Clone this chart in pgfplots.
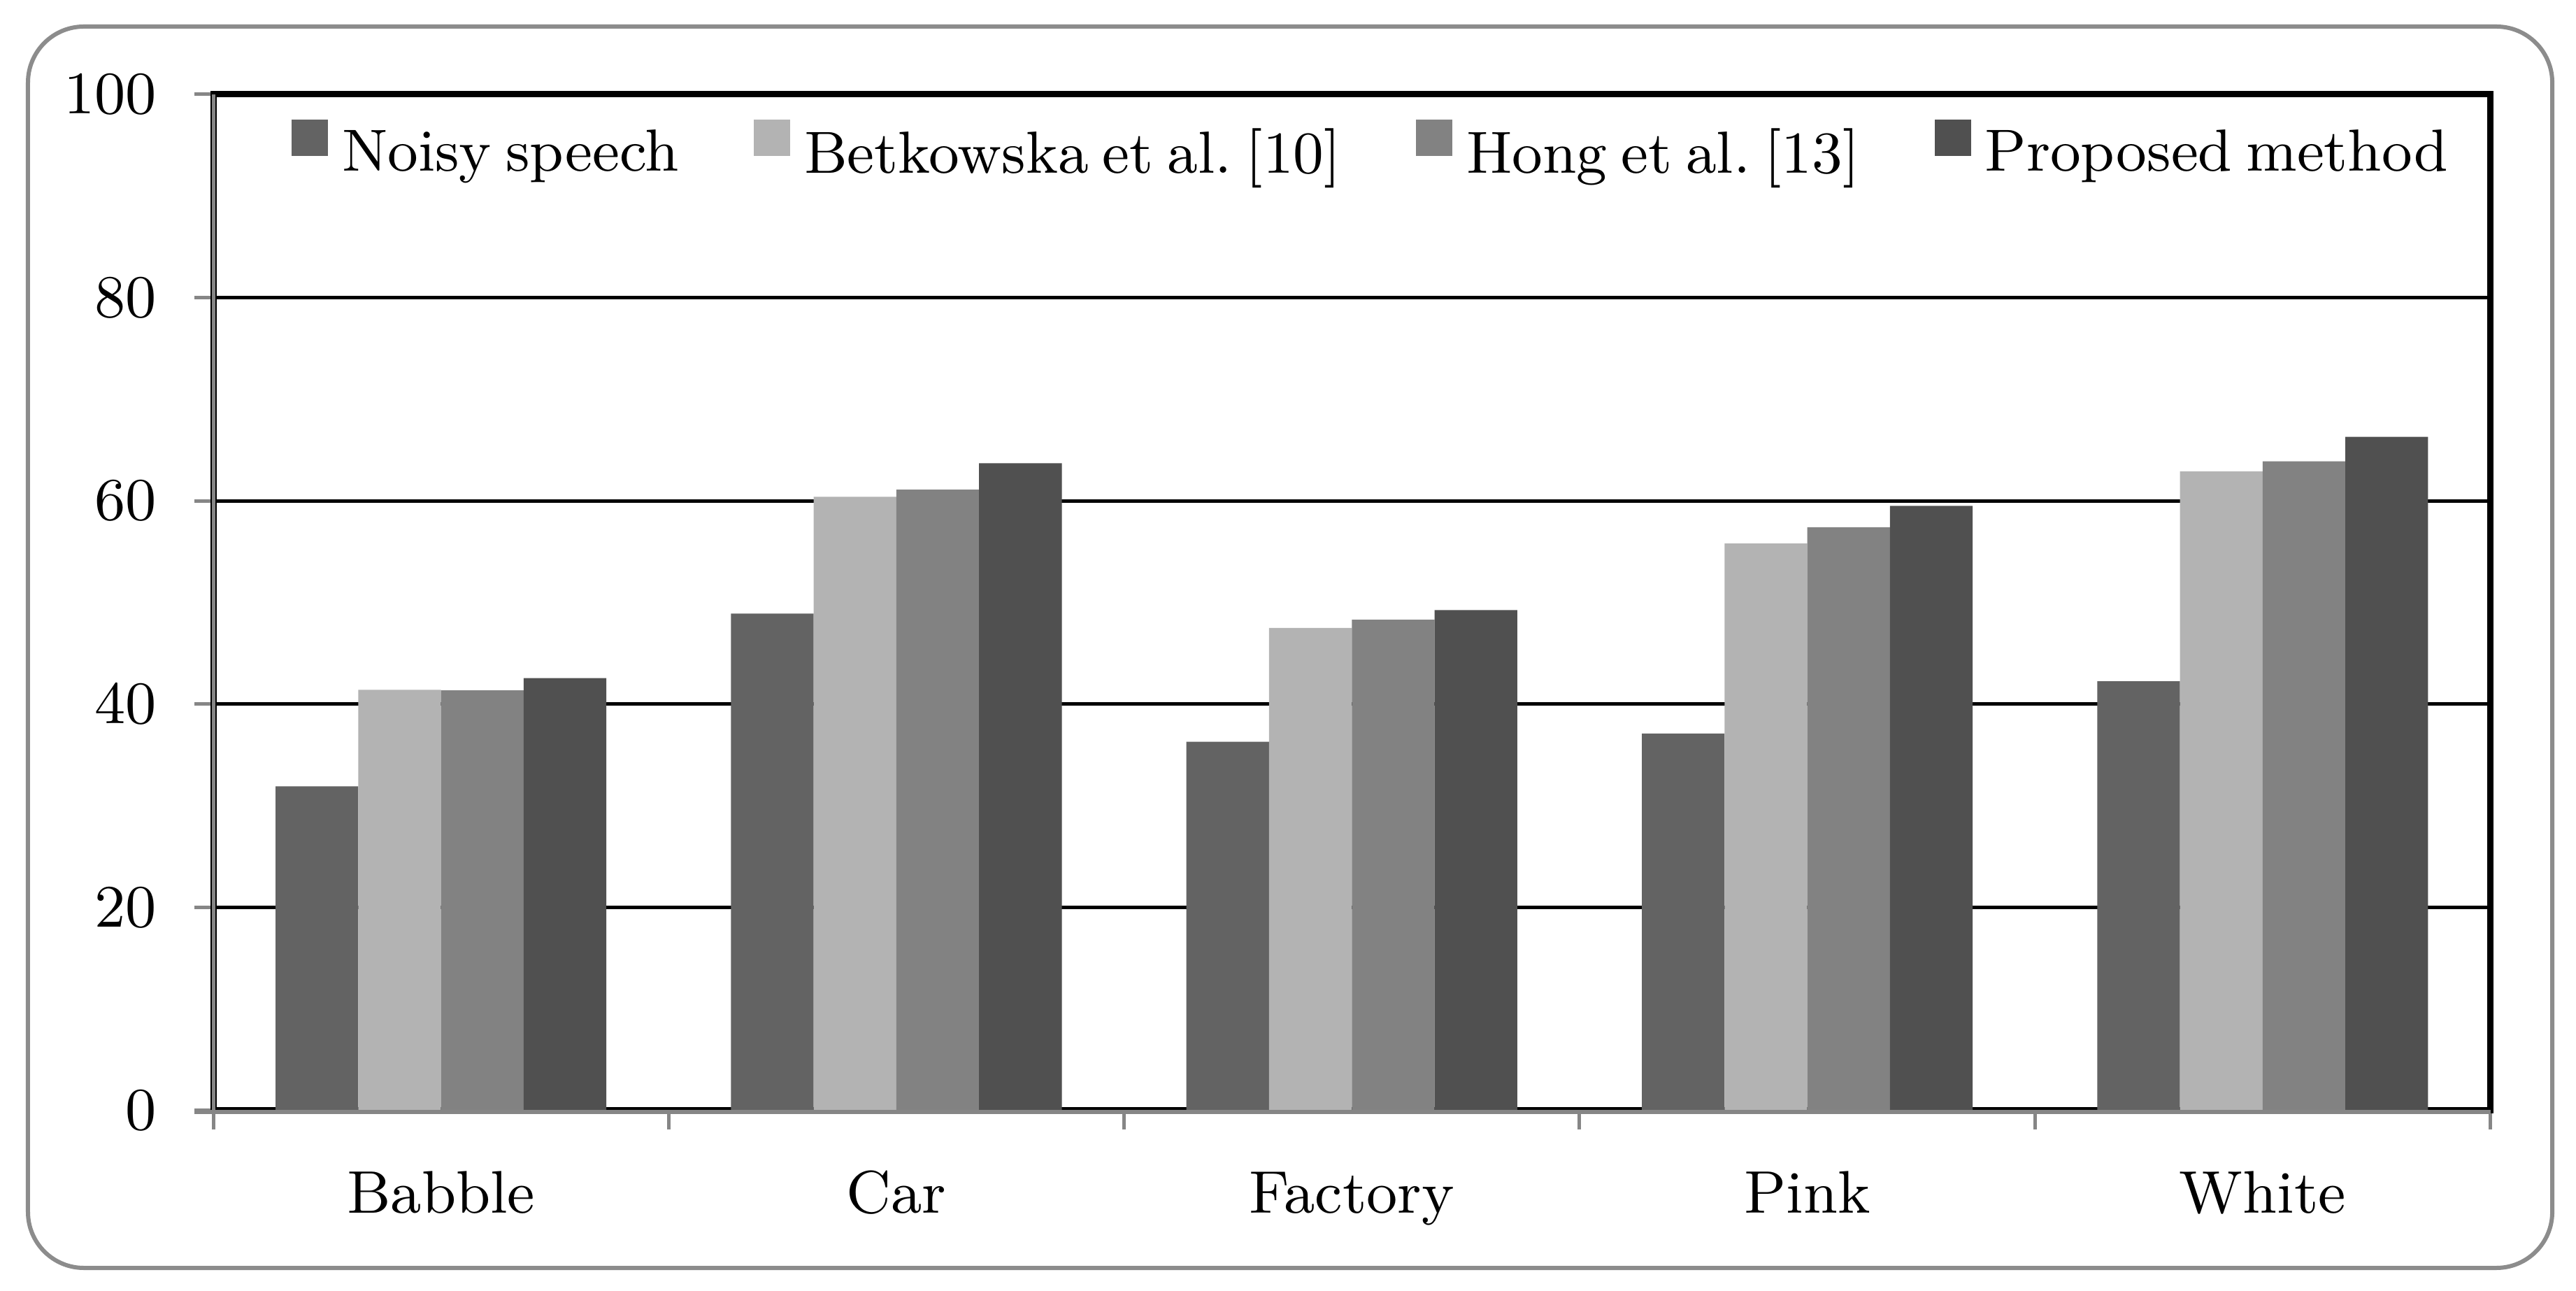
\documentclass[border=0pt]{standalone}
\usepackage{fontspec}
\usepackage{pgfplots}
\pgfplotsset{compat=1.18}
\pgfplotsset{sqleg/.style={legend image code/.code={\fill[##1] (0pt,0pt) rectangle (5.2pt,5.2pt);}}}
\definecolor{cNoisy}{RGB}{99,99,99}
\definecolor{cBet}{RGB}{179,179,179}
\definecolor{cHong}{RGB}{130,130,130}
\definecolor{cProp}{RGB}{80,80,80}
\definecolor{axgray}{RGB}{134,134,134}
\definecolor{framegray}{RGB}{140,140,140}
\frenchspacing
\newcommand\legfont{\fontsize{8.5pt}{10.2pt}\selectfont\spaceskip=2pt plus 1pt minus 0.5pt\relax}
\begin{document}
\begin{tikzpicture}[font=\fontsize{8.6pt}{10.4pt}\selectfont]
\useasboundingbox (-30.5pt,-25.7pt) rectangle (337.9pt,158.8pt);
\fill[white] (-30.5pt,-25.7pt) rectangle (337.9pt,158.8pt);
\draw[framegray, line width=0.6pt, rounded corners=8pt] (-26.5pt,-22.5pt) rectangle (334.5pt,155pt);
\begin{axis}[
  at={(0pt,0pt)}, anchor=south west,
  scale only axis, width=325.65pt, height=145.3pt,
  ybar=0pt, bar width=0.1816,
  xmin=-0.5, xmax=4.5, ymin=0, ymax=100,
  xtick={0,1,2,3,4},
  xticklabels={Babble,Car,Factory,Pink,White},
  minor xtick={-0.5,0.5,1.5,2.5,3.5,4.5},
  ytick={0,20,40,60,80,100},
  ymajorgrids, major grid style={black, line width=0.5pt},
  axis line style={black, line width=0.9pt},
  tick align=outside, tick pos=left,
  major tick length=2.7pt, minor tick length=2.7pt,
  tick style={axgray, line width=0.5pt},
  major x tick style={draw=none},
  /pgf/number format/assume math mode=true,
  tick label style={font=\fontsize{8.6pt}{10.4pt}\selectfont},
  yticklabel style={anchor=east, inner sep=0pt, xshift=-5.2pt},
  xticklabel style={anchor=base, inner sep=0pt, yshift=-11.9pt},
  legend style={at={(axis description cs:0.0344,0.944)}, anchor=west,
    draw=none, fill=none, inner sep=0pt, outer sep=0pt,
    legend columns=-1, nodes={inner sep=0pt},
    /tikz/every odd column/.append style={column sep=2.0pt},
    /tikz/every even column/.append style={column sep=10.7pt},
    font=\legfont},
]
\addplot[fill=cNoisy, draw=none, sqleg]
  coordinates {(0,31.9) (1,48.9) (2,36.3) (3,37.1) (4,42.25)};
\addplot[fill=cBet, draw=none, sqleg]
  coordinates {(0,41.4) (1,60.4) (2,47.5) (3,55.8) (4,62.9)};
\addplot[fill=cHong, draw=none, sqleg]
  coordinates {(0,41.35) (1,61.1) (2,48.3) (3,57.4) (4,63.9)};
\addplot[fill=cProp, draw=none, sqleg]
  coordinates {(0,42.55) (1,63.7) (2,49.25) (3,59.5) (4,66.3)};
\legend{Noisy speech, Betkowska et al. [10], Hong et al. [13], Proposed method}
\end{axis}
\draw[axgray, line width=0.5pt] (0pt,0pt) -- (0pt,145.3pt);
\draw[axgray, line width=0.6pt] (-2.7pt,-0.2pt) -- (325.65pt,-0.2pt);
\end{tikzpicture}
\end{document}
